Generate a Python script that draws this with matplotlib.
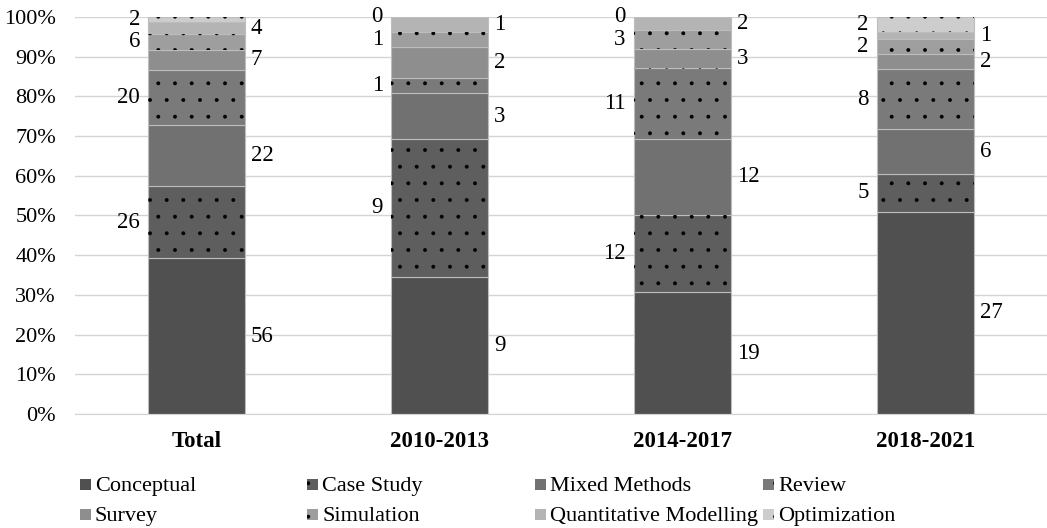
import matplotlib
matplotlib.use("Agg")
import matplotlib.pyplot as plt
import matplotlib.ticker as ticker
import numpy as np
from matplotlib.patches import Rectangle

# ── data ──────────────────────────────────────────────────────────────────────
periods = ["Total", "2010-2013", "2014-2017", "2018-2021"]
methods = ["Conceptual", "Case Study", "Mixed Methods", "Review",
           "Survey", "Simulation", "Quantitative Modelling", "Optimization"]

conceptual   = [56, 9, 19, 27]
case_study   = [26, 9, 12, 5]
mixed        = [22, 3, 12, 6]
review       = [20, 1, 11, 8]
survey       = [7, 2, 3, 2]
simulation   = [6, 1, 3, 2]
quant_model  = [4, 1, 2, 1]
optimization = [2, 0, 0, 2]

series = [conceptual, case_study, mixed, review,
          survey, simulation, quant_model, optimization]

# ── style ─────────────────────────────────────────────────────────────────────
FACES = ["#505050", "#5e5e5e", "#717171", "#7a7a7a",
         "#8e8e8e", "#9e9e9e", "#b4b4b4", "#cdcdcd"]
DOTTED = [False, True, False, True, False, True, False, True]
GRID = "#d4d4d4"
SEP = "#bdbdbd"

plt.rcParams["font.family"] = ["Liberation Serif", "DejaVu Serif"]
plt.rcParams["hatch.linewidth"] = 0.35

counts = np.array(series, dtype=float)
pct = counts / counts.sum(axis=0) * 100

fig = plt.figure(figsize=(10.47, 5.28), dpi=100)
ax = fig.add_axes([0.072, 0.216, 0.928, 0.752])

x = np.arange(len(periods))
width = 0.4
bottom = np.zeros(len(periods))

for i, name in enumerate(methods):
    ax.bar(x, pct[i], width, bottom=bottom, color=FACES[i],
           edgecolor=SEP, linewidth=0.8, zorder=2)
    if DOTTED[i]:
        ax.bar(x, pct[i], width, bottom=bottom, fill=False,
               edgecolor="black", hatch=".", linewidth=0, zorder=3)
    # labels alternate: right of the bar, then left
    for j in range(len(periods)):
        mid = bottom[j] + pct[i][j] / 2
        if i % 2 == 0:
            ax.annotate(f"{int(counts[i][j])}", xy=(x[j] + width / 2, mid),
                        xytext=(4, 0), textcoords="offset points",
                        ha="left", va="center", fontsize=16.5, color="black")
        else:
            ax.annotate(f"{int(counts[i][j])}", xy=(x[j] - width / 2, mid),
                        xytext=(-6, 0), textcoords="offset points",
                        ha="right", va="center", fontsize=16.5, color="black")
    bottom += pct[i]

# ── axes ──────────────────────────────────────────────────────────────────────
ax.set_xlim(-0.5, len(periods) - 0.5)
ax.set_ylim(0, 100)
ax.yaxis.set_major_locator(ticker.MultipleLocator(10))
ax.yaxis.set_major_formatter(ticker.FuncFormatter(lambda v, _: f"{v:.0f}%"))
ax.set_xticks(x)
ax.set_xticklabels(periods, fontsize=16.5, fontweight="bold")
ax.tick_params(axis="y", labelsize=16, length=0, pad=14)
ax.tick_params(axis="x", length=0, pad=12)
ax.grid(axis="y", color=GRID, linewidth=1.0, zorder=0)
ax.spines[["top", "right", "left"]].set_visible(False)
ax.spines["bottom"].set_color(GRID)

# ── legend: 2 rows x 4 columns, filled row by row ─────────────────────────────
col_x = [80, 307, 535, 763]      # pixel x of each column's swatch
row_y = [484, 514]               # pixel y of each row's centre
W, H = 1047, 528
sw = 11
for i, name in enumerate(methods):
    r, c = divmod(i, 4)
    x0, yc = col_x[c], row_y[r]
    fig.patches.append(Rectangle((x0 / W, (H - yc - sw / 2) / H), sw / W, sw / H,
                                 transform=fig.transFigure, facecolor=FACES[i],
                                 edgecolor="black" if DOTTED[i] else FACES[i],
                                 hatch="." if DOTTED[i] else None, linewidth=0))
    fig.text((x0 + sw + 4) / W, (H - yc) / H, name, fontsize=16,
             ha="left", va="center_baseline")

fig.savefig("out.png", dpi=100)
